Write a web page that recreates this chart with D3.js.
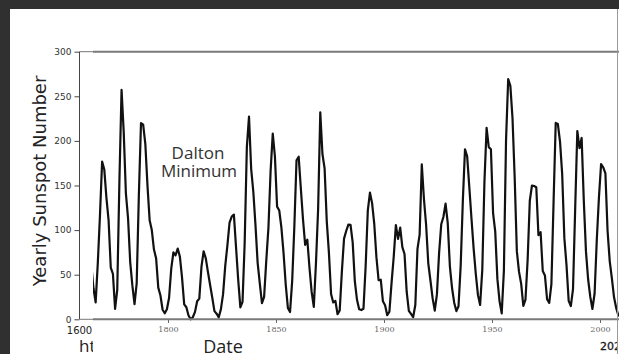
<!DOCTYPE html>
<html><head><meta charset="utf-8">
<script src="https://cdn.jsdelivr.net/npm/d3@7"></script>
<style>html,body{margin:0;padding:0;background:#fff;overflow:hidden}svg{display:block}</style>
</head><body>
<svg id="c" width="619" height="354"></svg>
<script>
const years = d3.range(1764, 2011);
const sunspots = [60.7,34.8,19.0,63.0,116.3,176.8,168.0,136.0,110.8,58.0,51.0,11.7,33.0,154.2,257.3,209.8,141.3,113.5,64.2,38.0,17.0,40.2,138.2,220.0,218.2,196.8,149.8,111.0,100.0,78.2,68.3,35.5,26.7,10.7,6.8,11.3,
24.2,56.7,75.0,71.8,79.2,70.3,46.8,16.8,13.5,4.2,0.0,2.3,8.3,20.3,23.2,59.0,76.3,68.3,52.9,38.5,24.2,9.2,6.3,2.2,11.4,28.2,59.9,83.0,108.5,115.2,117.4,80.8,44.3,13.4,19.5,85.8,192.7,227.3,168.7,143.0,105.5,63.3,40.3,18.1,25.1,65.8,102.7,166.3,208.3,182.5,
126.3,122.0,102.7,74.1,39.0,12.7,8.2,43.4,104.4,178.3,182.2,146.6,112.1,83.5,89.2,57.8,30.7,13.9,62.8,123.6,232.0,185.3,169.2,110.1,74.5,28.3,18.9,20.7,5.7,10.0,53.7,90.5,99.0,106.1,105.8,86.3,42.4,21.8,11.2,10.4,11.8,59.5,121.7,142.0,130.0,106.6,69.4,43.8,44.4,20.2,
15.7,4.6,8.5,40.8,70.1,105.5,90.1,102.8,80.9,73.2,30.9,9.5,6.0,2.4,16.1,79.0,95.0,173.6,134.6,105.7,62.7,43.5,23.7,9.7,27.9,74.0,106.5,114.7,129.7,108.2,59.4,35.1,18.6,9.2,14.6,60.2,132.8,190.6,182.6,148.0,113.0,79.2,50.8,27.1,16.1,55.3,154.3,214.7,193.0,190.7,
118.9,98.3,45.0,20.1,6.6,54.2,200.7,269.3,261.7,225.1,159.0,76.4,53.4,39.9,15.0,22.0,66.8,132.9,150.0,149.4,148.0,94.4,97.6,54.1,49.2,22.5,18.4,39.3,131.0,220.1,218.9,198.9,162.4,91.0,60.5,20.6,14.8,33.9,123.0,211.1,191.8,203.3,133.0,76.1,44.9,25.1,11.6,28.9,88.3,136.3,
173.9,170.4,163.6,99.3,65.3,45.8,24.7,12.6,4.2,4.8,24.9];
const xTicks = [1800, 1850, 1900, 1950, 2000];
const yTicks = [0, 50, 100, 150, 200, 250, 300];

const svg = d3.select("#c");
const defs = svg.append("defs");
const x = d3.scaleLinear().domain([1800, 2000]).range([168, 600]);
const y = d3.scaleLinear().domain([0, 300]).range([319.3, 51.7]);

// dark frame
svg.append("rect").attr("x",0).attr("y",0).attr("width",619).attr("height",354).attr("fill","#303030");
svg.append("rect").attr("x",10).attr("y",9).attr("width",609).attr("height",345).attr("fill","#fff");

// underlying chart axis (left)
const yAxis = d3.axisLeft(y).tickValues(yTicks).tickSize(5).tickPadding(3);
const gy = svg.append("g").attr("transform","translate(79.5,0)").call(yAxis);
gy.selectAll("text").attr("font-family","DejaVu Sans").attr("font-size",9).attr("fill","#333");
gy.selectAll("line").attr("stroke","#444");
gy.select(".domain").attr("stroke","#444").attr("d","M0,51.7V319.3");
svg.append("line").attr("x1",79.5).attr("x2",94).attr("y1",y(300)).attr("y2",y(300)).attr("stroke","#777");
svg.append("line").attr("x1",79.5).attr("x2",94).attr("y1",y(0)).attr("y2",y(0)).attr("stroke","#777");
svg.append("text").attr("x",79.5).attr("y",334).attr("text-anchor","middle")
  .attr("font-family","DejaVu Sans").attr("font-size",10).attr("fill","#222").text("1600");
defs.append("clipPath").attr("id","urlclip").append("rect").attr("x",0).attr("y",330).attr("width",93).attr("height",24);
svg.append("text").attr("x",79).attr("y",352).attr("clip-path","url(#urlclip)")
  .attr("font-family","Open Sans").attr("font-size",17).attr("fill","#222").text("https");

svg.append("text").attr("transform","translate(46,181) rotate(-90)").attr("text-anchor","middle")
  .attr("font-family","DejaVu Sans").attr("font-size",18).attr("fill","#222").text("Yearly Sunspot Number");

// overlay chart frame lines
svg.append("line").attr("x1",93).attr("x2",619).attr("y1",y(300)).attr("y2",y(300)).attr("stroke","#7a7a7a").attr("stroke-width",2);

// data line
defs.append("clipPath").attr("id","plotclip").append("rect").attr("x",93).attr("y",0).attr("width",526).attr("height",354);
const line = d3.line().x((d,i)=>x(years[i]+0.5)).y(d=>y(d));
svg.append("path").datum(sunspots).attr("d",line).attr("clip-path","url(#plotclip)")
  .attr("fill","none").attr("stroke","#111").attr("stroke-width",2.2).attr("stroke-linejoin","round");

svg.append("line").attr("x1",93).attr("x2",619).attr("y1",y(0)).attr("y2",y(0)).attr("stroke","#7a7a7a").attr("stroke-width",2);

// bottom axis ticks
const xAxis = d3.axisBottom(x).tickValues(xTicks).tickSize(3).tickPadding(3).tickFormat(d3.format("d"));
const gx = svg.append("g").attr("transform","translate(0,320)").call(xAxis);
gx.select(".domain").remove();
gx.selectAll("line").attr("stroke","#666");
gx.selectAll("text").attr("font-family","DejaVu Serif").attr("font-size",8).attr("fill","#666");

svg.append("text").attr("x",223).attr("y",352.5).attr("text-anchor","middle")
  .attr("font-family","Open Sans").attr("font-size",18).attr("fill","#222").text("Date");
defs.append("clipPath").attr("id","rclip").append("rect").attr("x",590).attr("y",330).attr("width",27).attr("height",24);
svg.append("text").attr("x",600).attr("y",350).attr("clip-path","url(#rclip)")
  .attr("font-family","DejaVu Sans").attr("font-size",11).attr("fill","#1a1a1a").attr("stroke","#1a1a1a").attr("stroke-width",0.3).text("2020");
svg.append("line").attr("x1",617.5).attr("x2",617.5).attr("y1",9).attr("y2",354).attr("stroke","#9a9a9a").attr("stroke-width",1);

// annotation
const ann = svg.append("text").attr("text-anchor","middle").attr("font-family","Open Sans").attr("font-size",17).attr("fill","#333");
ann.append("tspan").attr("x",198).attr("y",159).text("Dalton");
ann.append("tspan").attr("x",199).attr("y",177).text("Minimum");
</script>
</body></html>
